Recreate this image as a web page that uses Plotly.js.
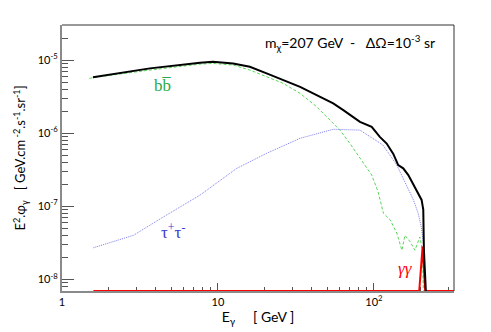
<!DOCTYPE html>
<html>
<head>
<meta charset="utf-8">
<script src="https://cdn.plot.ly/plotly-3.0.1.min.js"></script>
<style>
  html, body { margin: 0; padding: 0; background: #fff; }
  #chart { width: 491px; height: 332px; }
</style>
</head>
<body>
<div id="chart"></div>
<script>
// photon spectrum components, E in GeV, flux E^2.phi in GeV.cm-2.s-1.sr-1
const totalE = [1.58, 3.66, 7.67, 9.28, 12.5, 16.0, 20.5, 26.2, 33.6, 42.9, 54.8, 63.6, 81.3, 96.7, 109, 120.6, 133, 143, 154, 166, 174.5, 178.6, 192, 202, 207, 209, 215];
const totalFlux = [5.8e-6, 7.7e-6, 9.2e-6, 9.5e-6, 9.0e-6, 8.1e-6, 6.57e-6, 5.33e-6, 4.31e-6, 3.32e-6, 2.56e-6, 2.07e-6, 1.43e-6, 1.22e-6, 8.9e-7, 7.2e-7, 5.2e-7, 3.66e-7, 3.3e-7, 2.67e-7, 2.16e-7, 2.06e-7, 1.5e-7, 1.22e-7, 9.0e-8, 2.5e-8, 6.9e-9];

const bbE = [1.50, 1.58, 3.66, 7.67, 9.28, 12.5, 16.0, 20.5, 26.2, 33.6, 42.9, 52.2, 60.5, 70.2, 81.3, 96.7, 106, 115, 127, 140, 151, 158, 170, 183, 197, 205, 207];
const bbFlux = [5.62e-6, 5.75e-6, 7.3e-6, 8.8e-6, 9.0e-6, 8.55e-6, 7.3e-6, 5.9e-6, 4.8e-6, 3.5e-6, 2.3e-6, 1.51e-6, 1.10e-6, 7.2e-7, 4.5e-7, 2.67e-7, 1.6e-7, 8.0e-8, 6.5e-8, 4.3e-8, 2.5e-8, 4.0e-8, 3.3e-8, 2.5e-8, 3.8e-8, 2.4e-8, 6.9e-9];

const tauE = [1.59, 2.87, 4.69, 7.67, 13.2, 20.5, 33.6, 54.8, 81.3, 114, 140, 162, 179, 192, 201, 209, 212];
const tauFlux = [2.7e-8, 4.0e-8, 7.6e-8, 1.42e-7, 3.3e-7, 5.3e-7, 8.5e-7, 1.13e-6, 1.10e-6, 6.9e-7, 3.66e-7, 1.85e-7, 1.22e-7, 8.0e-8, 5.25e-8, 2.8e-8, 6.9e-9];

// gamma-gamma line, zero (drawn on the floor) except near m_chi
const gammaE = [1.59, 195, 205, 213, 330];
const gammaFlux = [6.9e-9, 6.9e-9, 2.8e-8, 6.9e-9, 6.9e-9];

const xTicks = [1, 10, 100];
const xTickText = ["1", "10", "10<sup>2</sup>"];
const yTicks = [1e-8, 1e-7, 1e-6, 1e-5];
const yTickText = ["10<sup>-8</sup>", "10<sup>-7</sup>", "10<sup>-6</sup>", "10<sup>-5</sup>"];

// minor tick positions (2..9 per decade)
function minorTicks(lo, hi) {
    const out = [];
    for (let d = lo; d <= hi; d++) {
        for (let m = 2; m <= 9; m++) out.push(m * Math.pow(10, d));
    }
    return out;
}

const traces = [
    {
        x: tauE, y: tauFlux, type: "scatter", mode: "lines", name: "τ+τ-",
        line: { color: "#7c7cee", width: 1, dash: "1px,1px" },
    },
    {
        x: bbE, y: bbFlux, type: "scatter", mode: "lines", name: "bb",
        line: { color: "#5ad65a", width: 1, dash: "3px,2px" },
    },
    {
        x: gammaE, y: gammaFlux, type: "scatter", mode: "lines", name: "γγ",
        line: { color: "#ff0000", width: 2 },
    },
    {
        x: totalE, y: totalFlux, type: "scatter", mode: "lines", name: "total",
        line: { color: "#000000", width: 2 },
    },
];

const sans = "Lato, 'Liberation Sans', sans-serif";
const serif = "'Liberation Serif', 'DejaVu Serif', serif";

const layout = {
    width: 491,
    height: 332,
    margin: { l: 62, r: 37, t: 25, b: 41 },
    paper_bgcolor: "#fff",
    plot_bgcolor: "#fff",
    showlegend: false,
    font: { family: sans, size: 11, color: "#000" },
    xaxis: {
        type: "log",
        range: [0, 2.513],
        showgrid: false,
        zeroline: false,
        showline: true,
        linecolor: "#8a8a8a",
        linewidth: 1.5,
        layer: "below traces",
        ticks: "inside",
        ticklen: 8,
        tickwidth: 1,
        tickcolor: "#555",
        tickmode: "array",
        tickvals: xTicks,
        ticktext: xTickText,
        tickfont: { family: sans, size: 11 },
        minor: { tickmode: "array", tickvals: minorTicks(0, 2).filter(v => v < 330), ticks: "inside", ticklen: 4, tickcolor: "#555", showgrid: false },
        title: { text: "E<sub>γ</sub>     [ GeV ]", font: { family: sans, size: 14 }, standoff: 0 },
    },
    yaxis: {
        type: "log",
        range: [-8.16, -4.52],
        showgrid: false,
        zeroline: false,
        showline: true,
        linecolor: "#8a8a8a",
        linewidth: 2,
        layer: "below traces",
        ticks: "inside",
        ticklen: 12,
        tickwidth: 1,
        tickcolor: "#555",
        tickmode: "array",
        tickvals: yTicks,
        ticktext: yTickText,
        tickfont: { family: sans, size: 11 },
        minor: { tickmode: "array", tickvals: minorTicks(-9, -5).filter(v => v > 6.9e-9 && v < 2.9e-5), ticks: "inside", ticklen: 6, tickcolor: "#555", showgrid: false },
        title: { text: "E<sup>2</sup>.φ<sub>γ</sub>   [ GeV.cm<sup> -2</sup>.s<sup>-1</sup>.sr<sup>-1</sup>]", font: { family: sans, size: 13 }, standoff: 9 },
    },
    shapes: [
        { type: "line", xref: "paper", yref: "paper", x0: 0, x1: 1, y0: 1, y1: 1, line: { color: "#333", width: 1 } },
        { type: "line", xref: "paper", yref: "paper", x0: 1, x1: 1, y0: 0, y1: 1, line: { color: "#333", width: 1 } },
    ],
    annotations: [
        { xref: "paper", yref: "paper", x: 0.735, y: 0.936, xanchor: "center", yanchor: "middle", showarrow: false,
          text: "m<sub>χ</sub>=207 GeV  -   ΔΩ=10<sup>-3</sup> sr", font: { family: sans, size: 14, color: "#000" } },
        { xref: "paper", yref: "paper", x: 0.258, y: 0.774, xanchor: "center", yanchor: "middle", showarrow: false,
          text: "bb\u0305", font: { family: serif, size: 17, color: "#2aaa4a" } },
        { xref: "paper", yref: "paper", x: 0.283, y: 0.226, xanchor: "center", yanchor: "middle", showarrow: false,
          text: "τ<sup>+</sup>τ<sup>-</sup>", font: { family: serif, size: 17, color: "#3a3ad0" } },
        { xref: "paper", yref: "paper", x: 0.875, y: 0.086, xanchor: "center", yanchor: "middle", showarrow: false,
          text: "<i>γγ</i>", font: { family: serif, size: 17, color: "#ff0000" } },
    ],
};

Plotly.newPlot("chart", traces, layout, { staticPlot: true });
</script>
</body>
</html>
